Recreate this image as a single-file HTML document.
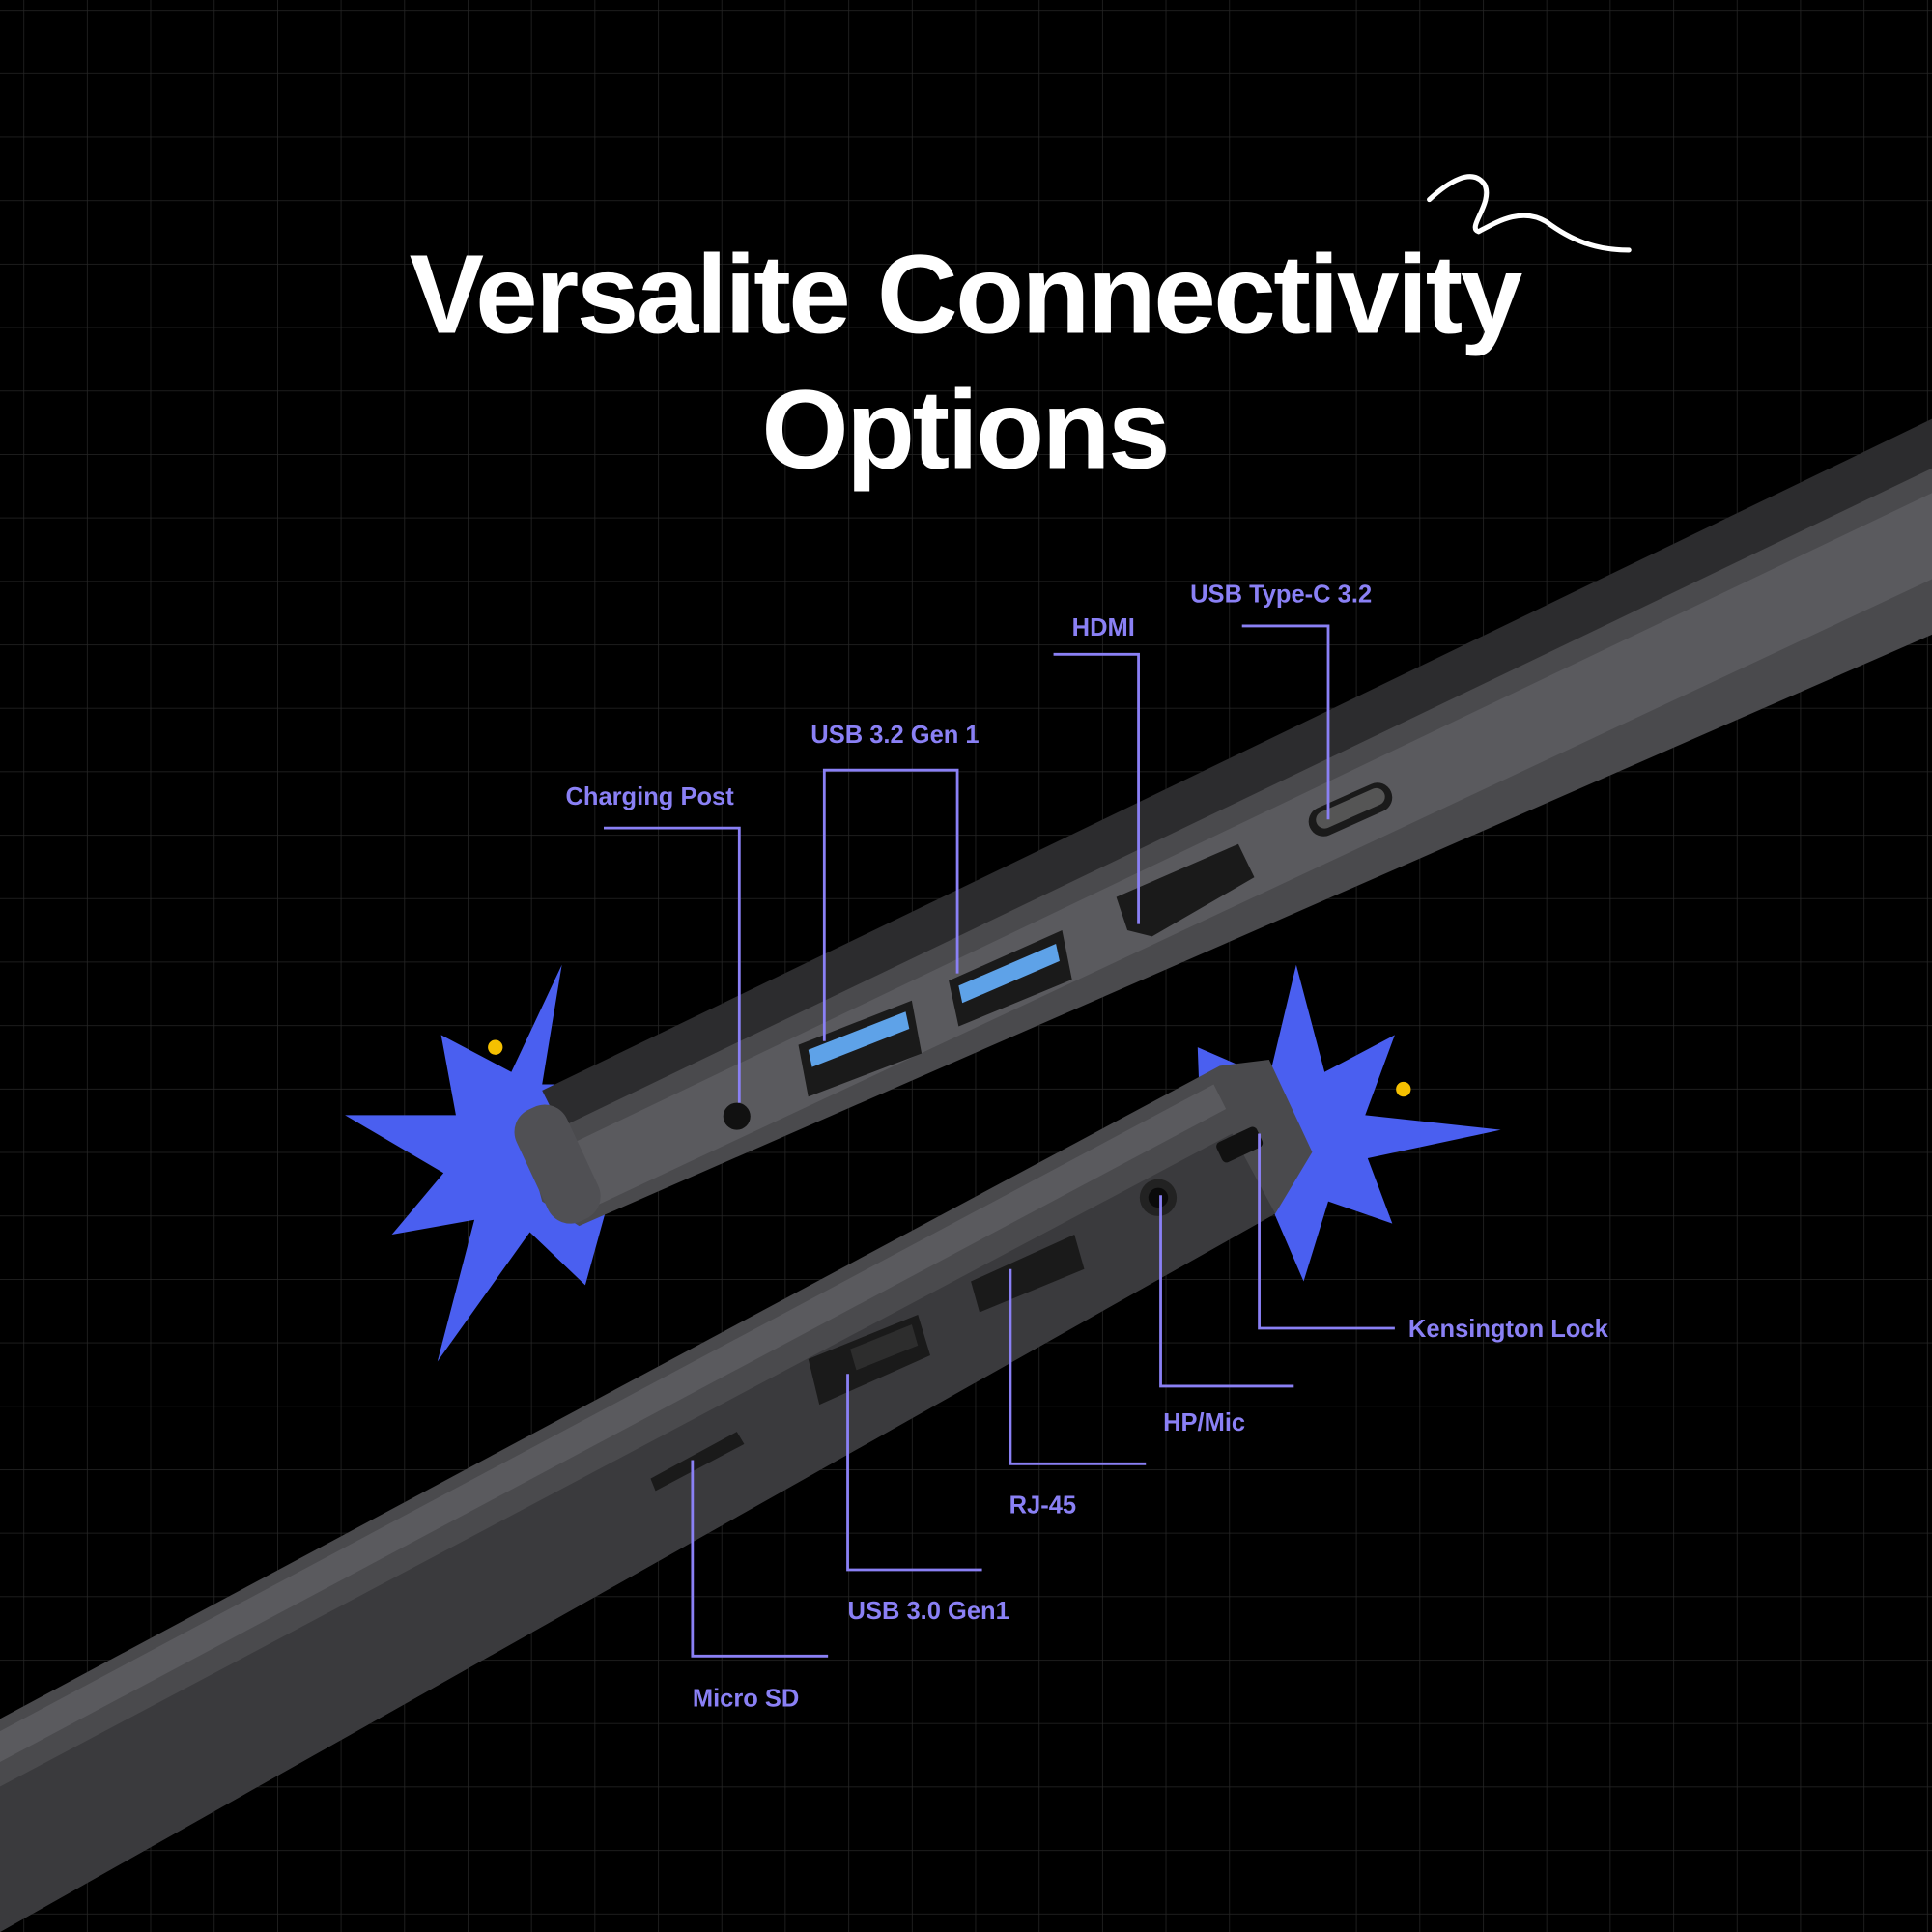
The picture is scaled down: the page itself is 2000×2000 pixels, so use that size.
<!DOCTYPE html>
<html><head><meta charset="utf-8"><style>
html,body{margin:0;padding:0;background:#000;}
svg{display:block;}
</style></head><body>
<svg width="2000" height="2000" viewBox="0 0 1568 1568" xmlns="http://www.w3.org/2000/svg">
<defs>
<pattern id="g" x="19" y="8" width="51.5" height="51.5" patternUnits="userSpaceOnUse">
<path d="M0 0H51.5M0 0V51.5" stroke="#262626" stroke-width="1.2" fill="none"/>
</pattern>
</defs>
<rect width="1568" height="1568" fill="#000"/>
<rect width="1568" height="1568" fill="url(#g)"/>

<!-- starbursts -->
<polygon fill="#4a5ff0" points="456,783 440,880 520,880 475,1043 430,1000 355,1105 385,990 318,1002 360,952 280,905 370,905 358,840 415,870"/>
<polygon fill="#4a5ff0" points="1052,783 1075,870 1132,840 1108,905 1218,917 1110,940 1130,993 1078,975 1058,1040 1030,975 975,930 972,850 1030,875"/>
<circle cx="402" cy="850" r="6" fill="#f5c000"/>
<circle cx="1139" cy="884" r="6" fill="#f5c000"/>

<!-- top laptop -->
<polygon fill="#2c2c2e" points="440,885 1568,340 1568,395 460,925"/>
<polygon fill="#4a4a4d" points="455,915 1568,380 1568,515 470,995 440,975 428,930"/>
<polygon fill="#5a5a5e" points="460,930 1568,400 1568,470 470,985"/>
<rect x="430" y="895" width="45" height="100" rx="20" fill="#505054" transform="rotate(-25 452 945)"/>
<circle cx="598" cy="906" r="11" fill="#111"/>
<polygon fill="#1a1a1a" points="648,848 740,812 748,855 656,890"/>
<polygon fill="#5ea2e8" points="656,852 735,821 738,835 659,866"/>
<polygon fill="#1a1a1a" points="770,796 862,755 870,795 778,833"/>
<polygon fill="#5ea2e8" points="778,800 857,766 860,780 781,814"/>
<polygon fill="#1a1a1a" points="906,728 1005,685 1018,712 935,760 915,755"/>
<rect x="1060" y="645" width="72" height="24" rx="12" fill="#1a1a1a" transform="rotate(-24 1096 657)"/>
<rect x="1066" y="649" width="60" height="14" rx="7" fill="#555" transform="rotate(-24 1096 656)"/>

<!-- bottom laptop -->
<polygon fill="#4a4a4d" points="0,1395 990,865 1030,860 1065,935 1035,985 0,1568"/>
<polygon fill="#3a3a3d" points="0,1450 1000,920 1035,985 0,1568"/>
<polygon fill="#5a5a5e" points="0,1405 985,880 995,900 0,1430"/>
<polygon fill="#1a1a1a" points="528,1200 598,1162 604,1172 532,1210"/>
<polygon fill="#1a1a1a" points="656,1103 745,1067 755,1100 665,1140"/>
<polygon fill="#2d2d2d" points="690,1095 740,1075 745,1092 695,1112"/>
<polygon fill="#1a1a1a" points="788,1040 872,1002 880,1030 795,1065"/>
<circle cx="940" cy="972" r="15" fill="#222"/><circle cx="940" cy="972" r="8" fill="#0a0a0a"/>
<rect x="988" y="920" width="36" height="18" rx="4" fill="#111" transform="rotate(-25 1006 929)"/>

<!-- title -->
<text x="783" y="270" text-anchor="middle" fill="#fff" font-family="Liberation Sans, sans-serif" font-weight="bold" font-size="91" letter-spacing="-2">Versalite Connectivity</text>
<text x="783" y="380" text-anchor="middle" fill="#fff" font-family="Liberation Sans, sans-serif" font-weight="bold" font-size="91" letter-spacing="-2">Options</text>
<path d="M1160,162 C1175,148 1195,135 1205,150 C1212,165 1190,185 1200,188 C1215,180 1235,168 1255,180 C1275,195 1295,203 1322,203" fill="none" stroke="#fff" stroke-width="4" stroke-linecap="round"/>

<!-- connectors -->
<g fill="none" stroke="#8a80f5" stroke-width="2.2">
<path d="M490,672H600V895"/>
<path d="M669,845V625H777V790"/>
<path d="M855,531H924V750"/>
<path d="M1008,508H1078V665"/>
<path d="M1022,920V1078H1132"/>
<path d="M942,970V1125H1050"/>
<path d="M820,1030V1188H930"/>
<path d="M688,1115V1274H797"/>
<path d="M562,1185V1344H672"/>
</g>
<g fill="#8a80f5" font-family="Liberation Sans, sans-serif" font-size="20" font-weight="bold">
<text x="459" y="653">Charging Post</text>
<text x="658" y="603">USB 3.2 Gen 1</text>
<text x="870" y="516">HDMI</text>
<text x="966" y="489">USB Type-C 3.2</text>
<text x="1143" y="1085">Kensington Lock</text>
<text x="944" y="1161">HP/Mic</text>
<text x="819" y="1228">RJ-45</text>
<text x="688" y="1314">USB 3.0 Gen1</text>
<text x="562" y="1385">Micro SD</text>
</g>
</svg>
</body></html>
